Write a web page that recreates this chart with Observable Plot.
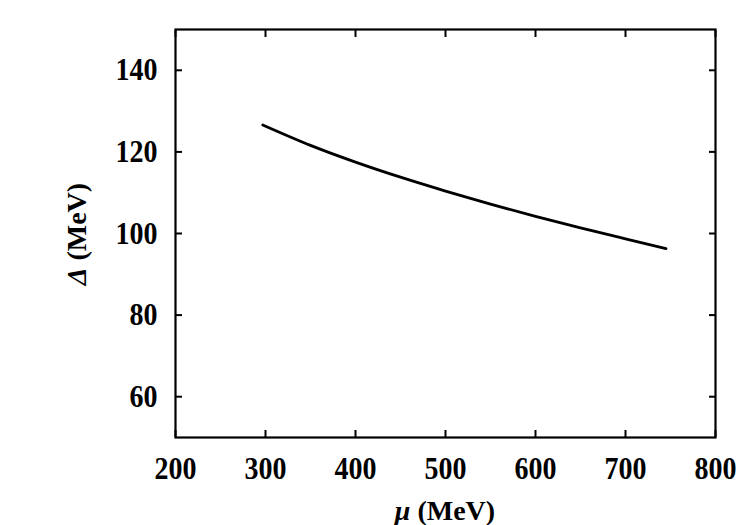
<!DOCTYPE html>
<html>
<head>
<meta charset="utf-8">
<script src="https://cdn.jsdelivr.net/npm/d3@7"></script>
<script src="https://cdn.jsdelivr.net/npm/@observablehq/plot@0.6"></script>
<style>
  html, body { margin: 0; padding: 0; background: #fff; }
  #chart { width: 750px; height: 525px; }
</style>
</head>
<body>
<div id="chart"></div>
<script>
// Data
const mu = [297, 350, 400, 450, 500, 550, 600, 650, 700, 745];
const gap = [126.6, 121.6, 117.5, 113.8, 110.4, 107.2, 104.2, 101.4, 98.7, 96.3];
const xTicks = [200, 300, 400, 500, 600, 700, 800];
const yTicks = [60, 80, 100, 120, 140];

const data = mu.map((m, i) => ({mu: m, delta: gap[i]}));

const font = "'Liberation Serif', 'Times New Roman', serif";

const chart = Plot.plot({
  width: 750,
  height: 525,
  marginLeft: 175,
  marginRight: 35,
  marginTop: 29,
  marginBottom: 88,
  style: {fontFamily: font, fontSize: "28px", fontWeight: "bold", color: "#000", background: "#fff"},
  x: {domain: [200, 800]},
  y: {domain: [50, 150]},
  marks: [
    Plot.axisX(xTicks, {anchor: "bottom", tickSize: -7, tickPadding: 26, strokeWidth: 2, label: null, fontSize: 28, fontWeight: "bold"}),
    Plot.axisX(xTicks, {anchor: "top", tickSize: -7, strokeWidth: 2, tickFormat: () => "", label: null}),
    Plot.axisY(yTicks, {anchor: "left", tickSize: -7, tickPadding: 25, strokeWidth: 2, label: null, fontSize: 28, fontWeight: "bold"}),
    Plot.axisY(yTicks, {anchor: "right", tickSize: -7, strokeWidth: 2, tickFormat: () => "", label: null}),
    Plot.frame({stroke: "#000", strokeWidth: 2.2}),
    Plot.line(data, {x: "mu", y: "delta", stroke: "#000", strokeWidth: 2.8, curve: "monotone-x"})
  ]
});

const svg = d3.select(chart);
// Stretch tick labels vertically a little, like the reference typeface
svg.selectAll("g[aria-label='x-axis tick label'] text, g[aria-label='y-axis tick label'] text")
  .attr("transform", function () { return (this.getAttribute("transform") || "") + " scale(1,1.13)"; });

// X axis label with italic mu
const xl = svg.append("text")
  .attr("x", 445).attr("y", 520)
  .attr("text-anchor", "middle")
  .attr("font-family", font).attr("font-size", 28).attr("font-weight", "bold").attr("fill", "#000");
xl.append("tspan").attr("font-style", "italic").text("μ");
xl.append("tspan").text(" (MeV)");

// Y axis label with italic Delta
const yl = svg.append("text")
  .attr("transform", "translate(86,234) rotate(-90)")
  .attr("text-anchor", "middle")
  .attr("font-family", font).attr("font-size", 28).attr("font-weight", "bold").attr("fill", "#000");
yl.append("tspan").attr("font-style", "italic").text("Δ");
yl.append("tspan").text(" (MeV)");

document.getElementById("chart").appendChild(chart);
</script>
</body>
</html>
